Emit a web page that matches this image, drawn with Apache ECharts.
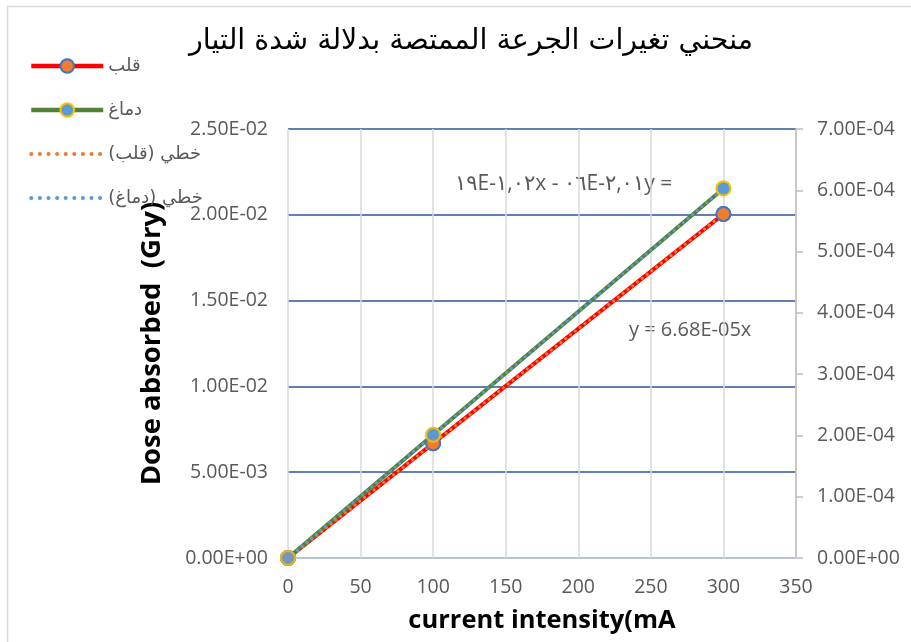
<!DOCTYPE html>
<html><head><meta charset="utf-8">
<script src="https://cdn.jsdelivr.net/npm/echarts@6/dist/echarts.min.js"></script>
<style>html,body{margin:0;padding:0;background:#fff}#c{width:911px;height:642px}</style>
</head><body><div id="c"></div>
<script>
// ---- data ----
const xValues = [0, 100, 300];
const heart = [0, 0.00668, 0.02004];          // قلب (left axis)
const brain = [0, 0.000201, 0.000603];        // دماغ (right axis)
const heartTrend = [0, 0.00668, 0.02004];     // خطي (قلب)
const brainTrend = [0, 0.000201, 0.000603];   // خطي (دماغ)
const leftTickLabels = ['0.00E+00','5.00E-03','1.00E-02','1.50E-02','2.00E-02','2.50E-02'];
const rightTickLabels = ['0.00E+00','1.00E-04','2.00E-04','3.00E-04','4.00E-04','5.00E-04','6.00E-04','7.00E-04'];
const xTickLabels = ['0','50','100','150','200','250','300','350'];
const names = ['قلب', 'دماغ', 'خطي (قلب)', 'خطي (دماغ)'];
const titleText = 'منحني تغيرات الجرعة الممتصة بدلالة شدة التيار';
const eqHeart = 'y = 6.68E-05x';
const eqBrain = '\u202D١٩E-١,٠٢x - ٠٦E-٢,٠١y =\u202C';

const pairs = arr => xValues.map((x, i) => [x, arr[i]]);
const FONT = "'Open Sans', 'DejaVu Sans', sans-serif";
const AR = "'DejaVu Sans', sans-serif";
const DOTS = [0.1, 6];
const LEGEND_DOTS = [0.1, 8.5];
const chart = echarts.init(document.getElementById('c'), null, {renderer: 'canvas'});
chart.setOption({
  animation: false,
  backgroundColor: '#fff',
  textStyle: {fontFamily: FONT},
  title: {
    text: titleText, left: 466, top: 22, textAlign: 'center',
    textStyle: {fontSize: 28.5, fontWeight: 'normal', color: '#000', fontFamily: AR}
  },
  legend: {
    orient: 'vertical', left: 24, top: 52, itemGap: 26, itemWidth: 72, itemHeight: 17,
    data: [
      {name: names[0]},
      {name: names[1]},
      {name: names[2], itemStyle: {opacity: 0}, lineStyle: {type: LEGEND_DOTS, width: 4, cap: 'round'}},
      {name: names[3], itemStyle: {opacity: 0}, lineStyle: {type: LEGEND_DOTS, width: 4, cap: 'round'}}
    ],
    lineStyle: {width: 4.5},
    textStyle: {fontSize: 18, color: '#595959', fontFamily: AR}
  },
  grid: {left: 288, right: 115, top: 129, bottom: 84, containLabel: false},
  xAxis: {
    type: 'value', min: 0, max: 350, interval: 50,
    name: 'current intensity(mA', nameLocation: 'middle', nameGap: 50,
    nameTextStyle: {fontSize: 25.5, fontWeight: 'bold', color: '#000', fontFamily: FONT},
    axisLine: {show: true, lineStyle: {color: '#D9D9D9', width: 1.5}},
    axisTick: {show: false},
    axisLabel: {fontSize: 19.5, color: '#595959', margin: 19, formatter: (v) => xTickLabels[Math.round(v / 50)]},
    splitLine: {show: true, lineStyle: {color: '#D9D9D9', width: 1.5}}
  },
  yAxis: [{
    type: 'value', min: 0, max: 0.025, interval: 0.005,
    name: 'Dose absorbed  (Gry)', nameLocation: 'middle', nameGap: 122,
    nameTextStyle: {fontSize: 27.5, fontWeight: 'bold', color: '#000', fontFamily: FONT},
    axisLine: {show: false}, axisTick: {show: false},
    axisLabel: {fontSize: 19.5, color: '#595959', margin: 20, formatter: (v) => leftTickLabels[Math.round(v / 0.005)]},
    splitLine: {show: true, lineStyle: {color: '#2F5597', width: 1.5}}
  }, {
    type: 'value', min: 0, max: 0.0007, interval: 0.0001, position: 'right',
    axisLine: {show: true, lineStyle: {color: '#BFBFBF', width: 1.5}},
    axisTick: {show: true, inside: false, length: 7, lineStyle: {color: '#BFBFBF', width: 1.5}},
    axisLabel: {fontSize: 19.5, color: '#595959', margin: 21, formatter: (v) => rightTickLabels[Math.round(v / 0.0001)]},
    splitLine: {show: false}
  }],
  series: [
    {name: names[0], type: 'line', yAxisIndex: 0, data: pairs(heart), z: 2,
     lineStyle: {color: '#FF0000', width: 4}, symbol: 'circle', symbolSize: 14,
     itemStyle: {color: '#ED7D31', borderColor: '#4472C4', borderWidth: 2}},
    {name: names[1], type: 'line', yAxisIndex: 1, data: pairs(brain), z: 2,
     lineStyle: {color: '#548235', width: 4}, symbol: 'circle', symbolSize: 14,
     itemStyle: {color: '#5B9BD5', borderColor: '#FFC000', borderWidth: 2}},
    {name: names[2], type: 'line', yAxisIndex: 0, data: pairs(heartTrend), z: 3,
     symbol: 'none', lineStyle: {color: '#ED7D31', width: 3, type: DOTS, cap: 'round'},
     itemStyle: {color: '#ED7D31'}},
    {name: names[3], type: 'line', yAxisIndex: 1, data: pairs(brainTrend), z: 3,
     symbol: 'none', lineStyle: {color: '#5B9BD5', width: 3, type: DOTS, cap: 'round'},
     itemStyle: {color: '#5B9BD5'}},
    {type: 'scatter', yAxisIndex: 0, data: pairs(heart), z: 4, symbolSize: 14,
     itemStyle: {color: '#ED7D31', borderColor: '#4472C4', borderWidth: 2}, silent: true},
    {type: 'scatter', yAxisIndex: 1, data: pairs(brain), z: 4, symbolSize: 14,
     itemStyle: {color: '#5B9BD5', borderColor: '#FFC000', borderWidth: 2}, silent: true}
  ],
  graphic: [
    {type: 'rect', left: 5, top: 4, shape: {width: 1000, height: 1000}, silent: true, z: -10,
     style: {fill: 'none', stroke: '#D9D9D9', lineWidth: 1.5}},
    {type: 'text', left: 629, top: 320, style: {text: eqHeart, fontSize: 20, fill: '#595959', fontFamily: FONT}},
    {type: 'text', left: 455, top: 174, style: {text: eqBrain, fontSize: 21, fill: '#595959', fontFamily: FONT}}
  ]
});
</script></body></html>
